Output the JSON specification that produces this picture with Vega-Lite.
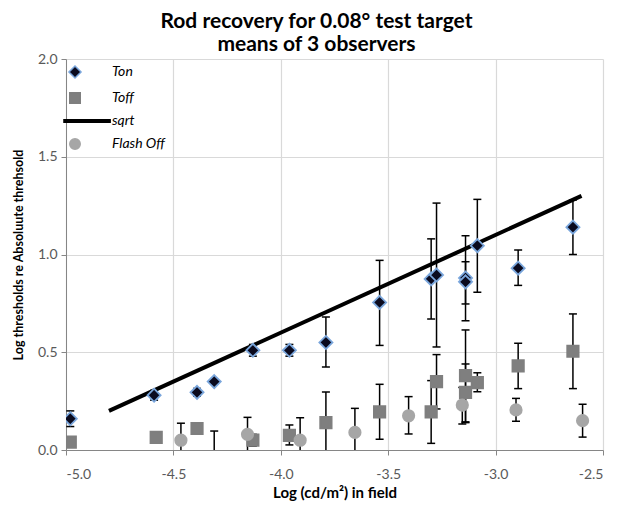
{
  "$schema": "https://vega.github.io/schema/vega-lite/v6.json",
  "width": 537,
  "height": 391,
  "autosize": "none",
  "padding": {"left": 66, "top": 59, "right": 30, "bottom": 57},
  "background": "white",
  "title": {
    "text": ["Rod recovery for 0.08° test target", "means of 3 observers"],
    "anchor": "middle",
    "dx": -18,
    "fontSize": 21,
    "fontWeight": "bold",
    "font": "Lato",
    "color": "#000000",
    "lineHeight": 23,
    "offset": -3
  },
  "config": {
    "font": "Lato",
    "view": {"stroke": null},
    "axis": {
      "gridColor": "#d9d9d9",
      "gridWidth": 1.2,
      "domainColor": "#868686",
      "tickColor": "#868686",
      "tickSize": 5,
      "labelColor": "#595959",
      "labelFontSize": 14,
      "labelFont": "Lato",
      "titleFont": "Lato",
      "titleFontWeight": "bold",
      "titleColor": "#000000"
    }
  },
  "datasets": {
    "pts": [
      {"series": "Ton", "x": -4.98, "y": 0.16, "lo": 0.12, "hi": 0.2},
      {"series": "Ton", "x": -4.59, "y": 0.28, "lo": 0.255, "hi": 0.305},
      {"series": "Ton", "x": -4.39, "y": 0.295, "lo": 0.275, "hi": 0.315},
      {"series": "Ton", "x": -4.31, "y": 0.35, "lo": 0.34, "hi": 0.36},
      {"series": "Ton", "x": -4.13, "y": 0.51, "lo": 0.48, "hi": 0.54},
      {"series": "Ton", "x": -3.96, "y": 0.51, "lo": 0.48, "hi": 0.54},
      {"series": "Ton", "x": -3.79, "y": 0.55, "lo": 0.425, "hi": 0.68},
      {"series": "Ton", "x": -3.54, "y": 0.755, "lo": 0.535, "hi": 0.97},
      {"series": "Ton", "x": -3.3, "y": 0.875, "lo": 0.67, "hi": 1.08},
      {"series": "Ton", "x": -3.275, "y": 0.895, "lo": 0.527, "hi": 1.263},
      {"series": "Ton", "x": -3.14, "y": 0.88, "lo": 0.661, "hi": 1.096},
      {"series": "Ton", "x": -3.14, "y": 0.86, "lo": 0.747, "hi": 0.963},
      {"series": "Ton", "x": -3.085, "y": 1.045, "lo": 0.807, "hi": 1.282},
      {"series": "Ton", "x": -2.895, "y": 0.93, "lo": 0.842, "hi": 1.023},
      {"series": "Ton", "x": -2.64, "y": 1.14, "lo": 1.0, "hi": 1.279},
      {"series": "Toff", "x": -4.98, "y": 0.04, "lo": 0.04, "hi": 0.04},
      {"series": "Toff", "x": -4.58, "y": 0.065, "lo": 0.065, "hi": 0.065},
      {"series": "Toff", "x": -4.39, "y": 0.11, "lo": 0.11, "hi": 0.11},
      {"series": "Toff", "x": -4.13, "y": 0.05, "lo": 0.02, "hi": 0.08},
      {"series": "Toff", "x": -3.96, "y": 0.075, "lo": 0.026, "hi": 0.128},
      {"series": "Toff", "x": -3.79, "y": 0.14, "lo": -0.02, "hi": 0.297},
      {"series": "Toff", "x": -3.54, "y": 0.195, "lo": 0.055, "hi": 0.336},
      {"series": "Toff", "x": -3.3, "y": 0.195, "lo": 0.034, "hi": 0.355},
      {"series": "Toff", "x": -3.275, "y": 0.35, "lo": 0.21, "hi": 0.488},
      {"series": "Toff", "x": -3.14, "y": 0.38, "lo": 0.144, "hi": 0.614},
      {"series": "Toff", "x": -3.14, "y": 0.295, "lo": 0.14, "hi": 0.44},
      {"series": "Toff", "x": -3.085, "y": 0.345, "lo": 0.298, "hi": 0.395},
      {"series": "Toff", "x": -2.895, "y": 0.43, "lo": 0.314, "hi": 0.546},
      {"series": "Toff", "x": -2.64, "y": 0.505, "lo": 0.314, "hi": 0.696},
      {"series": "Flash Off", "x": -4.465, "y": 0.05, "lo": -0.04, "hi": 0.137},
      {"series": "Flash Off", "x": -4.31, "y": -0.04, "lo": -0.18, "hi": 0.097},
      {"series": "Flash Off", "x": -4.155, "y": 0.08, "lo": -0.01, "hi": 0.167},
      {"series": "Flash Off", "x": -3.91, "y": 0.05, "lo": -0.07, "hi": 0.165},
      {"series": "Flash Off", "x": -3.655, "y": 0.09, "lo": -0.035, "hi": 0.213},
      {"series": "Flash Off", "x": -3.405, "y": 0.175, "lo": 0.082, "hi": 0.273},
      {"series": "Flash Off", "x": -3.155, "y": 0.23, "lo": 0.133, "hi": 0.32},
      {"series": "Flash Off", "x": -2.905, "y": 0.205, "lo": 0.147, "hi": 0.264},
      {"series": "Flash Off", "x": -2.595, "y": 0.15, "lo": 0.066, "hi": 0.234}
    ],
    "fit": [
      {"series": "sqrt", "x": -4.8, "y": 0.2},
      {"series": "sqrt", "x": -2.6, "y": 1.3}
    ]
  },
  "layer": [
    {
      "data": {"name": "fit"},
      "mark": {"type": "line", "strokeWidth": 4, "clip": true},
      "encoding": {
        "x": {
          "field": "x", "type": "quantitative", "title": "Log (cd/m²) in field",
          "scale": {"domain": [-5, -2.5], "nice": false, "zero": false},
          "axis": {"values": [-5, -4.5, -4, -3.5, -3, -2.5], "labelExpr": "replace(format(datum.value, '.1f'), '\u2212', '-')", "titleFontSize": 15, "labelPadding": 12, "titlePadding": 4}
        },
        "y": {
          "field": "y", "type": "quantitative", "title": "Log thresholds re Absoluute threhsold",
          "scale": {"domain": [0, 2], "nice": false},
          "axis": {"values": [0, 0.5, 1, 1.5, 2], "format": ".1f", "titleFontSize": 12.5, "labelPadding": 4, "titlePadding": 12}
        },
        "stroke": {
          "field": "series", "type": "nominal",
          "scale": {"domain": ["Ton", "Toff", "sqrt", "Flash Off"], "range": ["#7aa6dc", "#7f7f7f", "#000000", "#a6a6a6"]},
          "legend": {"title": null, "orient": "none", "legendX": 2, "legendY": 6, "padding": 0, "labelFontStyle": "italic", "labelFontSize": 14, "labelColor": "#000000", "symbolSize": 110, "rowPadding": 7, "labelOffset": 30, "symbolStrokeWidth": 1.5}
        }
      }
    },
    {
      "data": {"name": "pts"},
      "transform": [{"filter": "datum.hi > datum.lo"}],
      "mark": {"type": "rule", "color": "#000000", "strokeWidth": 1.5, "clip": true},
      "encoding": {
        "x": {"field": "x", "type": "quantitative", "title": "Log (cd/m²) in field"},
        "y": {"field": "lo", "type": "quantitative", "title": "Log thresholds re Absoluute threhsold"},
        "y2": {"field": "hi"}
      }
    },
    {
      "data": {"name": "pts"},
      "transform": [{"filter": "datum.hi > datum.lo"}],
      "mark": {"type": "tick", "orient": "horizontal", "color": "#000000", "size": 8, "thickness": 1.5, "clip": true, "opacity": 1},
      "encoding": {
        "x": {"field": "x", "type": "quantitative", "title": "Log (cd/m²) in field"},
        "y": {"field": "lo", "type": "quantitative", "title": "Log thresholds re Absoluute threhsold"}
      }
    },
    {
      "data": {"name": "pts"},
      "transform": [{"filter": "datum.hi > datum.lo"}],
      "mark": {"type": "tick", "orient": "horizontal", "color": "#000000", "size": 8, "thickness": 1.5, "clip": true, "opacity": 1},
      "encoding": {
        "x": {"field": "x", "type": "quantitative", "title": "Log (cd/m²) in field"},
        "y": {"field": "hi", "type": "quantitative", "title": "Log thresholds re Absoluute threhsold"}
      }
    },
    {
      "data": {"name": "pts"},
      "mark": {"type": "point", "filled": true, "opacity": 1, "size": 130, "strokeWidth": 1.8, "clip": true},
      "encoding": {
        "x": {"field": "x", "type": "quantitative", "title": "Log (cd/m²) in field"},
        "y": {"field": "y", "type": "quantitative", "title": "Log thresholds re Absoluute threhsold"},
        "fill": {
          "field": "series", "type": "nominal",
          "scale": {"domain": ["Ton", "Toff", "sqrt", "Flash Off"], "range": ["#0a0a1e", "#7f7f7f", "#000000", "#a6a6a6"]},
          "legend": {"title": null, "orient": "none", "legendX": 2, "legendY": 6, "padding": 0, "labelFontStyle": "italic", "labelFontSize": 14, "labelColor": "#000000", "symbolSize": 110, "rowPadding": 7, "labelOffset": 30, "symbolStrokeWidth": 1.5}
        },
        "shape": {
          "field": "series", "type": "nominal",
          "scale": {"domain": ["Ton", "Toff", "sqrt", "Flash Off"], "range": ["M0,-1.15L1.15,0L0,1.15L-1.15,0Z", "square", "M-2.1,-0.25L6.7,-0.25L6.7,0.25L-2.1,0.25Z", "circle"]},
          "legend": {"title": null, "orient": "none", "legendX": 2, "legendY": 6, "padding": 0, "labelFontStyle": "italic", "labelFontSize": 14, "labelColor": "#000000", "symbolSize": 110, "rowPadding": 7, "labelOffset": 30, "symbolStrokeWidth": 1.5}
        },
        "stroke": {"field": "series", "type": "nominal"}
      }
    }
  ]
}
